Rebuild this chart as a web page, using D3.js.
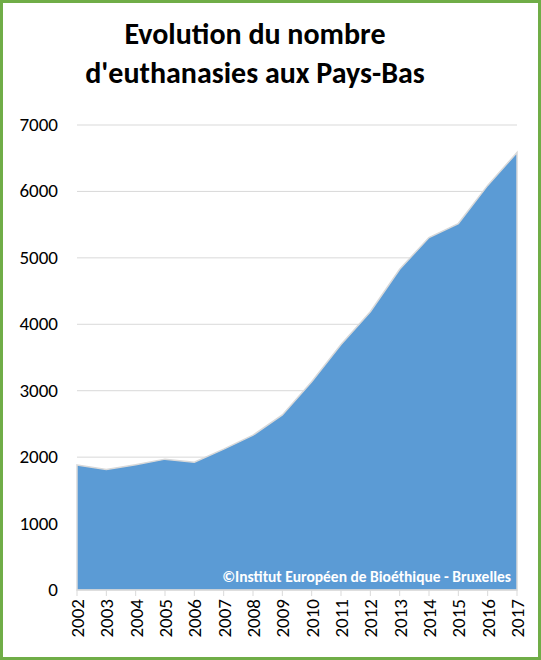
<!DOCTYPE html>
<html><head><meta charset="utf-8">
<script src="https://cdn.jsdelivr.net/npm/d3@7"></script>
<style>body{margin:0;background:#fff}</style>
</head><body>
<script>
var years = [2002,2003,2004,2005,2006,2007,2008,2009,2010,2011,2012,2013,2014,2015,2016,2017];
var cases = [1882,1815,1886,1970,1923,2120,2331,2636,3136,3695,4188,4829,5306,5516,6091,6585];
var yTicks = [0,1000,2000,3000,4000,5000,6000,7000];
var titleLines = ["Evolution du nombre", "d'euthanasies aux Pays-Bas"];

var W = 541, H = 660;
var svg = d3.select("body").append("svg").attr("width", W).attr("height", H)
  .style("font-family", "Calibri, Carlito, 'Liberation Sans', Arial, sans-serif");

svg.append("rect").attr("x", 1.5).attr("y", 1.5).attr("width", W - 3).attr("height", H - 3)
  .attr("fill", "#fff").attr("stroke", "#70AD47").attr("stroke-width", 3);

var x = d3.scaleLinear().domain([2002, 2017]).range([77, 517]);
var y = d3.scaleLinear().domain([0, 7000]).range([590, 125]);

svg.selectAll("line.grid").data(yTicks.slice(1)).enter().append("line")
  .attr("class", "grid").attr("x1", 77).attr("x2", 517)
  .attr("y1", y).attr("y2", y).attr("stroke", "#d9d9d9");

var area = d3.area().x(function(d, i) { return x(years[i]); })
  .y0(y(0)).y1(function(d) { return y(d); });
svg.append("path").datum(cases).attr("d", area)
  .attr("fill", "#5B9BD5").attr("stroke", "#d9d9d9").attr("stroke-width", 1.5);

svg.selectAll("text.yt").data(yTicks).enter().append("text")
  .attr("x", 58).attr("y", function(d) { return y(d) + 6; })
  .attr("text-anchor", "end").attr("font-size", 19).attr("fill", "#000")
  .text(function(d) { return d; });

svg.append("line").attr("x1", 77).attr("x2", 517).attr("y1", 590).attr("y2", 590).attr("stroke", "#d9d9d9");
svg.selectAll("line.tk").data(years).enter().append("line")
  .attr("x1", x).attr("x2", x).attr("y1", 590).attr("y2", 596).attr("stroke", "#d9d9d9");

svg.selectAll("text.xt").data(years).enter().append("text")
  .attr("transform", function(d) { return "translate(" + (x(d) + 7) + ",599) rotate(-90)"; })
  .attr("text-anchor", "end").attr("font-size", 19).attr("fill", "#000")
  .text(function(d) { return d; });

svg.selectAll("text.title").data(titleLines).enter().append("text")
  .attr("x", 255).attr("y", function(d, i) { return 44 + i * 39; })
  .attr("text-anchor", "middle").attr("font-size", 30).attr("font-weight", "bold")
  .text(function(d) { return d; });

svg.append("text").attr("x", 511).attr("y", 582).attr("text-anchor", "end")
  .attr("font-size", 15.5).attr("font-weight", "bold").attr("fill", "#fff")
  .text("©Institut Européen de Bioéthique - Bruxelles");
</script>
</body></html>
